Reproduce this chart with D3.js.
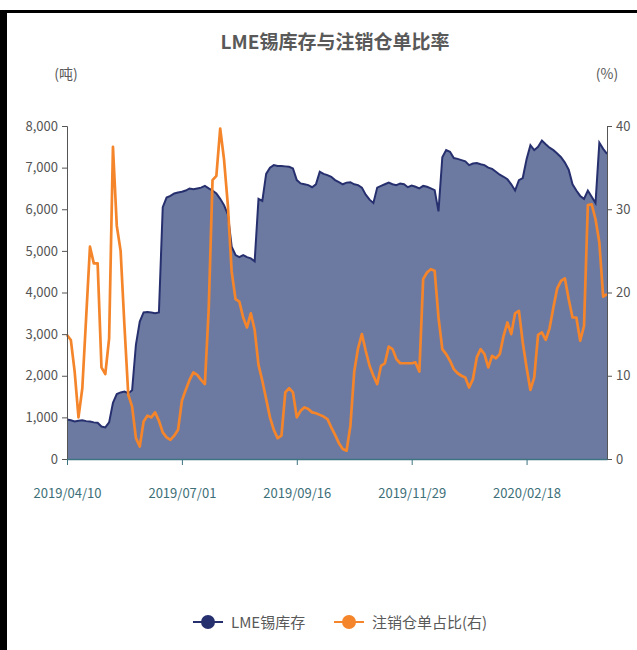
<!DOCTYPE html>
<html>
<head>
<meta charset="UTF-8" />
<title>LME锡库存与注销仓单比率</title>
<script src="https://cdn.jsdelivr.net/npm/d3@7/dist/d3.min.js"></script>
<style>
  body { margin: 0; background: #fff; }
  svg text { font-family: "Noto Sans CJK SC", "Noto Sans", sans-serif; }
</style>
</head>
<body>
<script>
// tick labels sit on every 30th point of the series
var tickLabels = ["2019/04/10", "2019/07/01", "2019/09/16", "2019/11/29", "2020/02/18"];
var tickStep = 30;

// LME锡库存 (吨)
var stock = [
  950, 930, 900, 920, 930, 910, 900, 880, 870, 780,
  760, 880, 1350, 1560, 1600, 1620, 1580, 1650, 2750, 3300,
  3520, 3530, 3520, 3500, 3520, 6050, 6280, 6320, 6380, 6400,
  6420, 6450, 6500, 6480, 6500, 6520, 6560, 6500, 6450, 6380,
  6250, 6100, 5880, 5100, 4900, 4850, 4900, 4850, 4820, 4750,
  6250, 6200, 6850, 7000, 7060, 7040, 7040, 7030, 7020, 6980,
  6700, 6620, 6600, 6580, 6530, 6600, 6900, 6850, 6820, 6780,
  6700, 6650, 6600, 6640, 6650, 6600, 6580, 6520, 6350, 6230,
  6150, 6520, 6560, 6600, 6640, 6600, 6580, 6620, 6600, 6530,
  6570, 6540, 6500, 6560, 6540, 6500, 6460, 5950, 7250, 7420,
  7380, 7230, 7210, 7180, 7150, 7060, 7100, 7110, 7080, 7060,
  7000, 6970, 6900, 6830, 6780, 6720, 6600, 6450, 6700, 6750,
  7200, 7540, 7420, 7500, 7650, 7560, 7480, 7420, 7340, 7250,
  7120, 6950, 6600, 6450, 6320, 6250, 6450, 6300, 6150, 7600,
  7450, 7330
];

// 注销仓单占比 (%)
var ratio = [
  14.9, 14.3, 10.5, 5.0, 8.5, 17.0, 25.5, 23.5, 23.5, 11.0,
  10.2, 14.5, 37.5, 28.0, 25.0, 16.0, 7.7, 6.3, 2.5, 1.5,
  4.5, 5.2, 5.0, 5.6, 4.6, 3.2, 2.6, 2.3, 2.8, 3.5,
  7.0, 8.3, 9.5, 10.4, 10.1, 9.5, 9.0, 18.0, 33.5, 34.0,
  39.7, 36.0, 30.5, 22.5, 19.2, 18.9, 17.0, 15.8, 17.5, 15.5,
  11.3, 9.4, 7.2, 5.0, 3.5, 2.5, 2.8, 8.0, 8.5, 8.0,
  5.0, 5.8, 6.2, 6.0, 5.6, 5.5, 5.3, 5.1, 4.8, 3.8,
  2.9, 1.9, 1.2, 1.0, 4.0, 10.5, 13.3, 15.0, 13.0, 11.2,
  10.0, 9.0, 11.2, 11.5, 13.5, 13.2, 12.0, 11.5, 11.5, 11.5,
  11.5, 11.6, 10.5, 21.6, 22.4, 22.8, 22.6, 17.0, 13.2, 12.6,
  11.8, 10.8, 10.3, 10.0, 9.8, 8.6, 9.6, 12.2, 13.2, 12.6,
  11.0, 12.4, 12.1, 12.6, 14.8, 16.4, 15.0, 17.5, 17.8, 14.0,
  11.0, 8.3, 9.8, 14.9, 15.2, 14.3, 15.7, 18.2, 20.5, 21.4,
  21.7, 19.2, 17.0, 17.0, 14.2, 16.0, 30.5, 30.6, 28.8, 26.0,
  19.5, 19.8
];

var leftTicks = [0, 1000, 2000, 3000, 4000, 5000, 6000, 7000, 8000];
var rightTicks = [0, 10, 20, 30, 40];

var W = 637, H = 650;
var m = { left: 67, right: 30, top: 126, bottom: 191 };

var svg = d3.select("body").append("svg")
  .attr("width", W)
  .attr("height", H);

// frame (black edges of the screenshot)
svg.append("rect").attr("x", 0).attr("y", 10).attr("width", W).attr("height", 3).attr("fill", "#000");
svg.append("rect").attr("x", 0).attr("y", 10).attr("width", 7).attr("height", H - 10).attr("fill", "#000");

var x = d3.scaleLinear()
  .domain([0, stock.length - 1])
  .range([m.left, W - m.right]);
var yL = d3.scaleLinear().domain([0, 8000]).range([H - m.bottom, m.top]);
var yR = d3.scaleLinear().domain([0, 40]).range([H - m.bottom, m.top]);

// area for stock
var area = d3.area()
  .x(function (d, i) { return x(i); })
  .y0(yL(0))
  .y1(function (d) { return yL(d); });
svg.append("path").datum(stock)
  .attr("d", area)
  .attr("fill", "#6c7aa2");

svg.append("path").datum(stock)
  .attr("d", d3.line().x(function (d, i) { return x(i); }).y(function (d) { return yL(d); }))
  .attr("fill", "none")
  .attr("stroke", "#27306e")
  .attr("stroke-width", 2);

// ratio line (right axis)
svg.append("path").datum(ratio)
  .attr("d", d3.line().x(function (d, i) { return x(i); }).y(function (d) { return yR(d); }))
  .attr("fill", "none")
  .attr("stroke", "#f5852a")
  .attr("stroke-width", 2.7)
  .attr("stroke-linejoin", "round");

// axes
var axL = svg.append("g")
  .attr("transform", "translate(" + m.left + ",0)")
  .call(d3.axisLeft(yL).tickValues(leftTicks).tickFormat(d3.format(",")).tickSize(5).tickPadding(4));
var axR = svg.append("g")
  .attr("transform", "translate(" + (W - m.right) + ",0)")
  .call(d3.axisRight(yR).tickValues(rightTicks).tickSize(5).tickPadding(4));
[axL, axR].forEach(function (g) {
  g.selectAll("path, line").attr("stroke", "#555");
  g.selectAll("text").attr("fill", "#555").style("font-size", "13px");
});

var tickIdx = tickLabels.map(function (d, i) { return i * tickStep; });
var axB = svg.append("g")
  .attr("transform", "translate(0," + yL(0) + ")")
  .call(d3.axisBottom(x).tickValues(tickIdx)
    .tickFormat(function (d) { return tickLabels[d / tickStep]; })
    .tickSize(6).tickPadding(24).tickSizeOuter(0));
axB.select(".domain").attr("stroke", "#3d7480").attr("stroke-width", 1.5);
axB.selectAll("line").attr("stroke", "#3d7480");
axB.selectAll("text").attr("fill", "#3d6f78").style("font-size", "13px");

// title and units
svg.append("text")
  .attr("x", 335).attr("y", 49)
  .attr("text-anchor", "middle")
  .attr("fill", "#595959")
  .style("font-size", "19px")
  .style("font-weight", "bold")
  .text("LME锡库存与注销仓单比率");
svg.append("text").attr("x", 66).attr("y", 79).attr("text-anchor", "middle")
  .attr("fill", "#595959").style("font-size", "14px").text("(吨)");
svg.append("text").attr("x", 607).attr("y", 79).attr("text-anchor", "middle")
  .attr("fill", "#595959").style("font-size", "14px").text("(%)");

// legend
var legend = [
  { name: "LME锡库存", color: "#27306e", x: 193 },
  { name: "注销仓单占比(右)", color: "#f5852a", x: 334 }
];
var lg = svg.selectAll(".lg").data(legend).enter().append("g")
  .attr("transform", function (d) { return "translate(" + d.x + ",622)"; });
lg.append("line").attr("x1", 0).attr("x2", 30)
  .attr("stroke", function (d) { return d.color; }).attr("stroke-width", 2);
lg.append("circle").attr("cx", 15).attr("r", 7)
  .attr("fill", function (d) { return d.color; });
lg.append("text").attr("x", 38).attr("y", 6)
  .attr("fill", "#595959").style("font-size", "15px")
  .text(function (d) { return d.name; });
</script>
</body>
</html>
